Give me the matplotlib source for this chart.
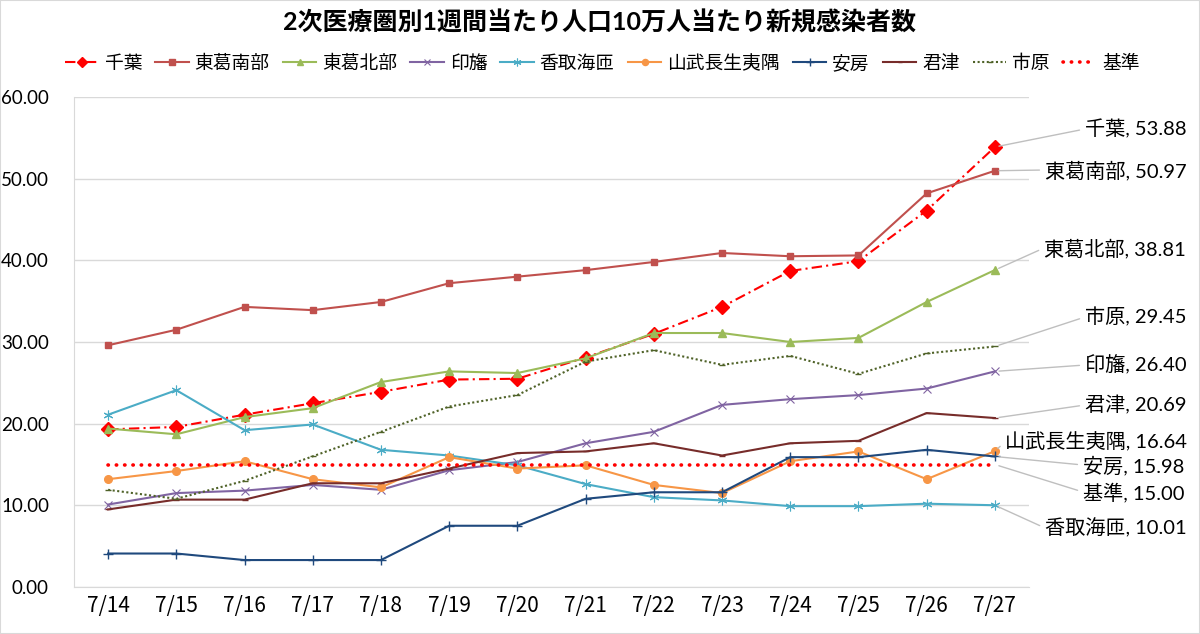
import matplotlib
matplotlib.use("Agg")
import matplotlib.pyplot as plt
from matplotlib.patches import Rectangle

plt.rcParams['font.family'] = ['Lato', 'Noto Sans CJK JP', 'DejaVu Sans']

dates = ['7/14', '7/15', '7/16', '7/17', '7/18', '7/19', '7/20',
         '7/21', '7/22', '7/23', '7/24', '7/25', '7/26', '7/27']

chiba = [19.3, 19.6, 21.1, 22.5, 23.9, 25.4, 25.5, 28.1, 31.0, 34.3, 38.7, 39.9, 46.1, 53.88]
tokatsu_s = [29.6, 31.5, 34.3, 33.9, 34.9, 37.2, 38.0, 38.8, 39.8, 40.9, 40.5, 40.6, 48.2, 50.97]
tokatsu_n = [19.4, 18.7, 20.8, 21.9, 25.1, 26.4, 26.2, 28.0, 31.1, 31.1, 30.0, 30.5, 34.9, 38.81]
inba = [10.1, 11.5, 11.8, 12.5, 11.9, 14.3, 15.3, 17.6, 19.0, 22.3, 23.0, 23.5, 24.3, 26.40]
katori = [21.1, 24.1, 19.2, 19.9, 16.8, 16.1, 14.9, 12.6, 11.0, 10.6, 9.9, 9.9, 10.2, 10.01]
sanbu = [13.2, 14.2, 15.4, 13.2, 12.2, 15.9, 14.5, 14.9, 12.5, 11.5, 15.4, 16.6, 13.2, 16.64]
awa = [4.1, 4.1, 3.3, 3.3, 3.3, 7.5, 7.5, 10.8, 11.6, 11.6, 15.9, 15.9, 16.8, 15.98]
kimitsu = [9.5, 10.7, 10.7, 12.7, 12.7, 14.5, 16.4, 16.6, 17.6, 16.1, 17.6, 17.9, 21.3, 20.69]
ichihara = [11.9, 10.8, 13.0, 16.0, 19.0, 22.1, 23.5, 27.6, 29.0, 27.2, 28.3, 26.1, 28.6, 29.45]
kijun = [15.00] * 14

names = ['千葉', '東葛南部', '東葛北部', '印旛', '香取海匝', '山武長生夷隅', '安房', '君津', '市原', '基準']
series = [chiba, tokatsu_s, tokatsu_n, inba, katori, sanbu, awa, kimitsu, ichihara, kijun]

styles = [
    dict(color='#FF0000', ls=(0, (5, 2, 1, 2)), marker='D', ms=7, lw=1.5),
    dict(color='#C0504D', ls='-', marker='s', ms=5, lw=1.5),
    dict(color='#9BBB59', ls='-', marker='^', ms=5.5, lw=1.5),
    dict(color='#8064A2', ls='-', marker='x', ms=5.5, lw=1.5, mew=0.8),
    dict(color='#4BACC6', ls='-', marker=(6, 2, 0), ms=7, lw=1.5, mew=0.8),
    dict(color='#F79646', ls='-', marker='o', ms=5.5, lw=1.5),
    dict(color='#1F497D', ls='-', marker='+', ms=7, lw=1.5, mew=1),
    dict(color='#772C2A', ls='-', marker='_', ms=4, lw=1.5),
    dict(color='#4F6228', ls=(0, (1, 1.2)), marker='_', ms=4, lw=1.5),
    dict(color='#FF0000', ls=(0, (0.1, 2.2)), marker=None, ms=0, lw=2.6, dash_capstyle='round'),
]

# label positions (figure pixels from top-left), layout only
label_pos = [(1085, 129), (1045, 170), (1044, 248), (1085, 317), (1085, 365),
             (1085, 405), (1005, 442), (1083, 465), (1083, 492), (1045, 528)]
label_order = [0, 1, 2, 8, 3, 7, 5, 6, 9, 4]

W, H = 1200, 634
fig = plt.figure(figsize=(12, 6.34), dpi=100)
ax = fig.add_axes([74 / W, 1 - 587 / H, (1029 - 74) / W, (587 - 97) / H])

x = list(range(len(dates)))
for name, vals, st in zip(names, series, styles):
    st = dict(st)
    ax.plot(x, vals, label=name, color=st.pop('color'), linestyle=st.pop('ls'),
            marker=st.pop('marker'), markersize=st.pop('ms'), linewidth=st.pop('lw'), **st)

ax.set_xlim(-0.5, len(dates) - 0.5)
ax.set_ylim(0, 60)
ax.set_yticks([0, 10, 20, 30, 40, 50, 60])
ax.set_yticklabels(['%.2f' % v for v in [0, 10, 20, 30, 40, 50, 60]], fontsize=13.5)
ax.set_xticks(x)
ax.set_xticklabels(dates, family=['Noto Sans CJK JP'], fontsize=15)
ax.tick_params(length=0, colors='black')
ax.tick_params(axis='x', pad=6)
ax.tick_params(axis='y', pad=18)
ax.grid(axis='y', color='#D9D9D9', linewidth=1)
ax.set_axisbelow(True)
for s in ['top', 'right']:
    ax.spines[s].set_visible(False)
for s in ['left', 'bottom']:
    ax.spines[s].set_color('#D9D9D9')

for (px, py), idx in zip(label_pos, label_order):
    val = series[idx][-1]
    ax.annotate('%s, %.2f' % (names[idx], val), xy=(x[-1], val),
                xytext=(px, H - py), textcoords='figure pixels',
                ha='left', va='center', fontsize=14.5,
                arrowprops=dict(arrowstyle='-', color='#BFBFBF', lw=1,
                                shrinkA=2, shrinkB=3, relpos=(0, 0.5)),
                annotation_clip=False)

fig.text(0.5, 1 - 22 / H, '2次医療圏別1週間当たり人口10万人当たり新規感染者数',
         ha='center', va='center', fontsize=18, fontweight='bold')

fig.legend(loc='center', bbox_to_anchor=(0.502, 1 - 63 / H), ncol=10, frameon=False,
           fontsize=13.5, handlelength=1.8, handletextpad=0.3, columnspacing=0.7,
           markerscale=0.8)

fig.patches.append(Rectangle((0, 0), 1, 1, transform=fig.transFigure, fill=False,
                             edgecolor='#D9D9D9', linewidth=1.5))

fig.savefig('out.png', dpi=100)
